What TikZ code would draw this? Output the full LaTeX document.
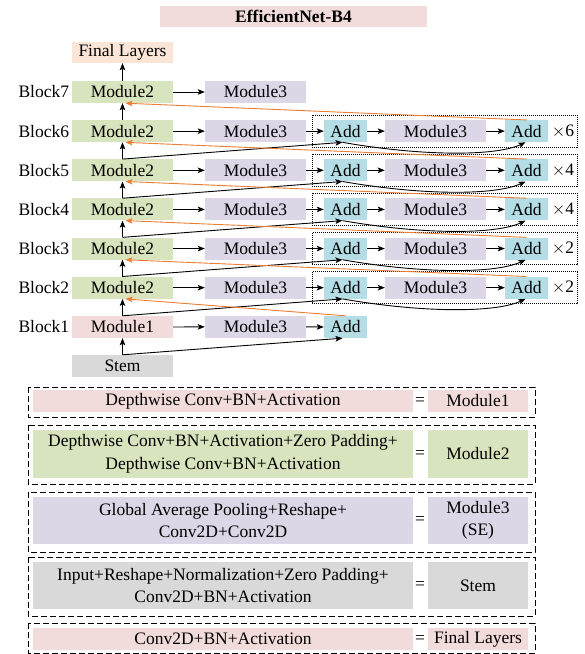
\documentclass[tikz,border=0pt]{standalone}
\usepackage{fontspec}
\setmainfont{Liberation Serif}
\usetikzlibrary{arrows.meta}
\definecolor{cpink}{HTML}{F2DCDB}
\definecolor{cpeach}{HTML}{FBE5D6}
\definecolor{cgreen}{HTML}{D7E4BD}
\definecolor{cpurple}{HTML}{DDD6E6}
\definecolor{cblue}{HTML}{B4DDE6}
\definecolor{cgray}{HTML}{D9D9D9}
\definecolor{corange}{HTML}{ED7D31}
\begin{document}
\begin{tikzpicture}[x=1pt,y=-1pt,
  font=\fontsize{17.5}{22.5}\selectfont,
  box/.style={inner sep=0pt, minimum height=22pt, align=center},
  wbox/.style={box, minimum width=101pt},
  abox/.style={box, minimum width=43pt, fill=cblue},
  mtwo/.style={wbox, fill=cgreen},
  mthree/.style={wbox, fill=cpurple},
  lbox/.style={box, minimum width=380pt},
  rbox/.style={box, minimum width=100pt},
  arr/.style={-{Stealth[length=7pt,width=5.5pt,inset=1.5pt]}, line width=0.9pt, black},
  oarr/.style={arr, corange},
  dotbox/.style={draw, line width=0.7pt, dash pattern=on 1pt off 1pt},
  dashbox/.style={draw, line width=0.9pt, dash pattern=on 6pt off 3pt}]
\useasboundingbox (0,0) rectangle (585,654);

% title
\node[box, minimum width=267pt, minimum height=21pt, fill=cpink,
      font=\fontsize{17.5}{22.5}\selectfont\bfseries] (title) at (293.5,16.5) {EfficientNet-B4};

% left column
\node[wbox, minimum height=21pt, fill=cpeach] (fl) at (122.5,52.5) {Final Layers};
\node[wbox, fill=cgray, alias=m2-0] (stem) at (122.5,366) {Stem};
\node[wbox, fill=cpink, alias=m2-1] (m1) at (122.5,327) {Module1};
\foreach \i in {1,...,7}{
  \pgfmathsetmacro\yy{92+39.14*(7-\i)}
  \node[anchor=west] (lab\i) at (15,\yy) {Block\i};
  \node[mthree] (ma-\i) at (255.5,\yy) {Module3};
}
\foreach \i in {2,...,7}{
  \pgfmathsetmacro\yy{92+39.14*(7-\i)}
  \node[mtwo] (m2-\i) at (122.5,\yy) {Module2};
}
% block 1 add
\node[abox, alias=a2-1] (a1-1) at (345.5,327) {Add};
% blocks 2..6 repeated part
\foreach \i/\r in {2/2,3/2,4/4,5/4,6/6}{
  \pgfmathsetmacro\yy{92+39.14*(7-\i)}
  \draw[dotbox] (312,\yy-16) rectangle (577,\yy+16);
  \node[abox] (a1-\i) at (345.5,\yy) {Add};
  \node[mthree] (mb-\i) at (435.5,\yy) {Module3};
  \node[abox] (a2-\i) at (526.5,\yy) {Add};
  \node (rep\i) at (563,\yy) {$\times$\r};
}

% vertical arrows
\foreach \i in {1,...,7}{
  \pgfmathtruncatemacro\j{\i-1}
  \draw[arr] (m2-\j.north) -- (m2-\i.south);
}
\draw[arr] (m2-7.north) -- (fl.south);

% horizontal arrows
\foreach \i in {1,...,7}{
  \draw[arr] (m2-\i.east) -- (ma-\i.west);
}
\foreach \i in {1,...,6}{
  \draw[arr] (ma-\i.east) -- (a1-\i.west);
}
\foreach \i in {2,...,6}{
  \draw[arr] (a1-\i.east) -- (mb-\i.west);
  \draw[arr] (mb-\i.east) -- (a2-\i.west);
}

% skip connections
\foreach \i in {1,...,6}{
  \pgfmathtruncatemacro\j{\i-1}
  \draw[arr] (m2-\j.north) -- ([xshift=-3pt]a1-\i.south);
}
\foreach \i in {2,...,6}{
  \draw[arr] ([xshift=-3pt]a1-\i.south) .. controls +(80,14) and +(-30,14) .. ([xshift=-1pt]a2-\i.south);
}
% orange connections
\foreach \i in {1,...,6}{
  \pgfmathtruncatemacro\k{\i+1}
  \draw[oarr] (a2-\i.north) -- ([xshift=3pt]m2-\k.south);
}

% legend
\draw[dashbox] (28,387) rectangle (535,417);
\node[lbox, fill=cpink] (d1) at (223,401) {Depthwise Conv+BN+Activation};
\node (e1) at (420,401) {=};
\node[rbox, fill=cpink] (r1) at (478,401) {Module1};

\draw[dashbox] (28,425) rectangle (535,484);
\node[lbox, minimum height=48pt, fill=cgreen] (d2) at (223,454) {Depthwise Conv+BN+Activation+Zero Padding+\\Depthwise Conv+BN+Activation};
\node (e2) at (420,454) {=};
\node[rbox, minimum height=48pt, fill=cgreen] (r2) at (478,454) {Module2};

\draw[dashbox] (28,492) rectangle (535,552);
\node[lbox, minimum height=47pt, fill=cpurple] (d3) at (223,520.5) {Global Average Pooling+Reshape+\\Conv2D+Conv2D};
\node (e3) at (420,520.5) {=};
\node[rbox, minimum height=47pt, fill=cpurple] (r3) at (478,520.5) {Module3\\(SE)};

\draw[dashbox] (28,557) rectangle (535,616);
\node[lbox, minimum height=47pt, fill=cgray] (d4) at (223,585.5) {Input+Reshape+Normalization+Zero Padding+\\Conv2D+BN+Activation};
\node (e4) at (420,585.5) {=};
\node[rbox, minimum height=47pt, fill=cgray] (r4) at (478,585.5) {Stem};

\draw[dashbox] (28,623) rectangle (535,653);
\node[lbox, fill=cpink] (d5) at (223,639) {Conv2D+BN+Activation};
\node (e5) at (420,639) {=};
\node[rbox, fill=cpink] (r5) at (478,639) {Final Layers};
\end{tikzpicture}
\end{document}
